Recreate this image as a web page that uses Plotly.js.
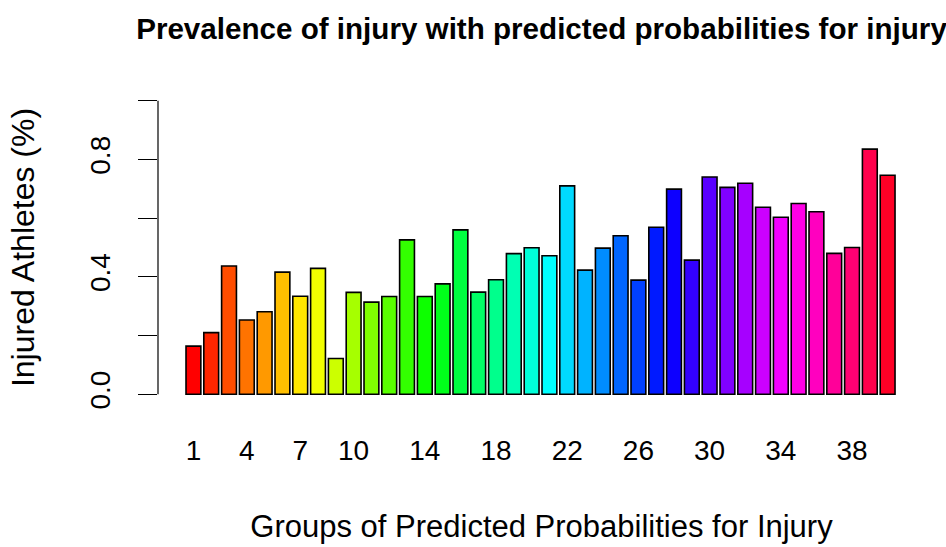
<!DOCTYPE html>
<html>
<head>
<meta charset="utf-8">
<script src="https://cdn.plot.ly/plotly-3.0.1.min.js"></script>
<style>html,body{margin:0;padding:0;background:#fff;}#chart{width:946px;height:547px;}</style>
</head>
<body>
<div id="chart"></div>
<script>
const groups = [1,2,3,4,5,6,7,8,9,10,11,12,13,14,15,16,17,18,19,20,21,22,23,24,25,26,27,28,29,30,31,32,33,34,35,36,37,38,39,40];
const injured = [0.164,0.210,0.437,0.253,0.281,0.416,0.334,0.429,0.122,0.347,0.314,0.333,0.526,0.333,0.376,0.560,0.348,0.390,0.479,0.499,0.472,0.710,0.423,0.498,0.540,0.389,0.569,0.699,0.457,0.740,0.705,0.719,0.637,0.603,0.650,0.622,0.480,0.500,0.835,0.746];
const barColors = ["#FF0000","#FF2600","#FF4D00","#FF7300","#FF9900","#FFBF00","#FFE600","#F2FF00","#CCFF00","#A6FF00","#80FF00","#59FF00","#33FF00","#0DFF00","#00FF1A","#00FF40","#00FF66","#00FF8C","#00FFB3","#00FFD9","#00FFFF","#00D9FF","#00B3FF","#008CFF","#0066FF","#0040FF","#001AFF","#0D00FF","#3300FF","#5900FF","#8000FF","#A600FF","#CC00FF","#F200FF","#FF00E6","#FF00BF","#FF0099","#FF0073","#FF004C","#FF0026"];
const xTickVals = [1,4,7,10,14,18,22,26,30,34,38];
const xTickText = ["1","4","7","10","14","18","22","26","30","34","38"];
const yTickVals = [0,0.2,0.4,0.6,0.8,1.0];
const yTickText = ["0.0","","0.4","","0.8",""];

const FONT = "'Liberation Sans', Arial, sans-serif";

const trace = {
  type: 'bar',
  x: groups,
  y: injured,
  marker: {color: barColors, line: {color: '#000000', width: 1.6}},
  hoverinfo: 'x+y'
};

const layout = {
  width: 946, height: 547,
  margin: {l: 158, r: 21, t: 89, b: 141, pad: 0},
  paper_bgcolor: '#ffffff', plot_bgcolor: '#ffffff',
  showlegend: false,
  bargap: 0.167,
  font: {family: FONT, color: '#000000', size: 28},
  title: {
    text: '<b>Prevalence of injury with predicted probabilities for injury</b>',
    font: {family: FONT, size: 29.6, color: '#000000'},
    x: 0.5, xref: 'paper', xanchor: 'center',
    y: 0.948, yref: 'container', yanchor: 'middle'
  },
  xaxis: {
    range: [-0.99, 42.10],
    tickmode: 'array', tickvals: xTickVals, ticktext: xTickText,
    ticks: '', showline: false, showgrid: false, zeroline: false,
    ticklabelstandoff: 25,
    tickfont: {family: FONT, size: 28, color: '#000000'},
    title: {text: 'Groups of Predicted Probabilities for Injury', font: {family: FONT, size: 31, color: '#000000'}, standoff: 50}
  },
  yaxis: {
    range: [-0.04, 1.04],
    tickmode: 'array', tickvals: yTickVals, ticktext: yTickText,
    ticks: 'outside', ticklen: 19, tickwidth: 1.2, tickcolor: '#000000',
    tickangle: -90,
    ticklabelstandoff: 17,
    showline: false, showgrid: false, zeroline: false,
    tickfont: {family: FONT, size: 28, color: '#000000'},
    title: {text: 'Injured Athletes (%)', font: {family: FONT, size: 32, color: '#000000'}, standoff: 40}
  },
  shapes: [{
    type: 'line', xref: 'paper', yref: 'y', x0: 0, x1: 0, y0: 0, y1: 1,
    line: {color: '#000000', width: 1.2}
  }]
};

Plotly.newPlot('chart', [trace], layout, {displayModeBar: false, staticPlot: true});
</script>
</body>
</html>
